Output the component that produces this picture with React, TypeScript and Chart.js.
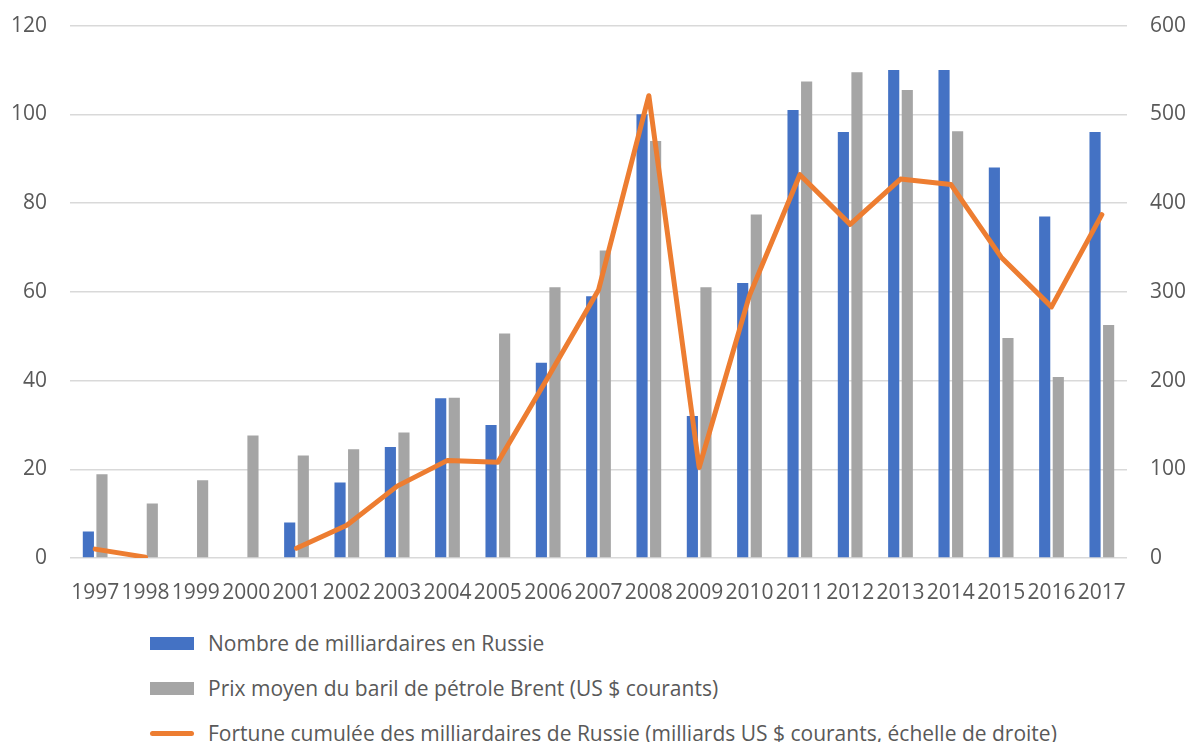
import React, { useEffect, useRef } from "react";
import { Chart, registerables } from "chart.js";

Chart.register(...registerables);

const years = ["1997","1998","1999","2000","2001","2002","2003","2004","2005","2006","2007","2008","2009","2010","2011","2012","2013","2014","2015","2016","2017"];
const billionaires = [6, 0, 0, 0, 8, 17, 25, 36, 30, 44, 59, 100, 32, 62, 101, 96, 110, 110, 88, 77, 96];
const brentPrice = [18.9, 12.3, 17.5, 27.6, 23.1, 24.5, 28.3, 36.1, 50.6, 61.0, 69.3, 94.0, 61.0, 77.4, 107.4, 109.5, 105.5, 96.2, 49.6, 40.8, 52.5];
const wealth = [10, 1, null, null, 11, 37, 81, 110, 108, 204, 302, 521, 102, 296, 432, 376, 427, 421, 339, 283, 387];

const labelBillionaires = "Nombre de milliardaires en Russie";
const labelBrent = "Prix moyen du baril de pétrole Brent (US $ courants)";
const labelWealth = "Fortune cumulée des milliardaires de Russie (milliards US $ courants, échelle de droite)";

const BLUE = "#4472C4";
const GRAY = "#A5A5A5";
const ORANGE = "#ED7D31";
const TEXT = "#595959";
const FONT = "'Open Sans', 'Liberation Sans', sans-serif";
const FS = 21;

export default function App() {
  const ref = useRef<HTMLCanvasElement | null>(null);
  useEffect(() => {
    if (!ref.current) return;
    const chart = new Chart(ref.current, {
      type: "bar",
      data: {
        labels: years,
        datasets: [
          {
            type: "line",
            label: labelWealth,
            data: wealth,
            yAxisID: "y1",
            borderColor: ORANGE,
            backgroundColor: ORANGE,
            borderWidth: 5,
            pointRadius: 0,
            borderCapStyle: "round",
            borderJoinStyle: "round",
            spanGaps: false,
            order: 0,
          } as any,
          {
            type: "bar",
            label: labelBillionaires,
            data: billionaires,
            yAxisID: "y",
            backgroundColor: BLUE,
            barPercentage: 0.82,
            categoryPercentage: 0.54,
            order: 1,
          },
          {
            type: "bar",
            label: labelBrent,
            data: brentPrice,
            yAxisID: "y",
            backgroundColor: GRAY,
            barPercentage: 0.82,
            categoryPercentage: 0.54,
            order: 2,
          },
        ],
      },
      options: {
        animation: false,
        responsive: false,
        maintainAspectRatio: false,
        layout: { padding: { top: 4, left: 0, right: 0, bottom: 0 } },
        plugins: { legend: { display: false }, tooltip: { enabled: false } },
        scales: {
          x: {
            grid: { display: false },
            border: { display: false },
            ticks: {
              autoSkip: false,
              maxRotation: 0,
              minRotation: 0,
              color: TEXT,
              font: { family: FONT, size: FS },
              padding: 14,
            },
            afterFit: (s: any) => { s.height = 52; },
          },
          y: {
            position: "left",
            min: 0,
            max: 120,
            ticks: { stepSize: 20, color: TEXT, font: { family: FONT, size: FS }, padding: 23 },
            grid: { color: "#D9D9D9", lineWidth: 1.5, drawTicks: false },
            border: { display: false },
            afterFit: (s: any) => { s.width = 70; },
          },
          y1: {
            position: "right",
            min: 0,
            max: 600,
            ticks: { stepSize: 100, color: TEXT, font: { family: FONT, size: FS }, padding: 23 },
            grid: { display: false, drawTicks: false },
            border: { display: false },
            afterFit: (s: any) => { s.width = 62; },
          },
        },
      },
    });
    return () => chart.destroy();
  }, []);

  const item = (swatch: React.ReactNode, text: string, top: number) => (
    <div style={{ position: "absolute", left: 150, top: top - 15, height: 30, display: "flex", alignItems: "center" }}>
      <div style={{ width: 44, display: "flex", alignItems: "center" }}>{swatch}</div>
      <span style={{ marginLeft: 14, fontFamily: FONT, fontSize: FS, color: TEXT, whiteSpace: "nowrap" }}>{text}</span>
    </div>
  );

  return (
    <div style={{ position: "fixed", left: 0, top: 0, width: 1189, height: 742, background: "#fff", overflow: "hidden" }}>
      <canvas ref={ref} width={1189} height={620} style={{ position: "absolute", left: 0, top: -10, width: 1189, height: 620 }} />
      {item(<div style={{ width: 44, height: 13, background: BLUE }} />, labelBillionaires, 643)}
      {item(<div style={{ width: 44, height: 13, background: GRAY }} />, labelBrent, 688)}
      {item(<div style={{ width: 44, height: 5, borderRadius: 3, background: ORANGE }} />, labelWealth, 733)}
    </div>
  );
}
